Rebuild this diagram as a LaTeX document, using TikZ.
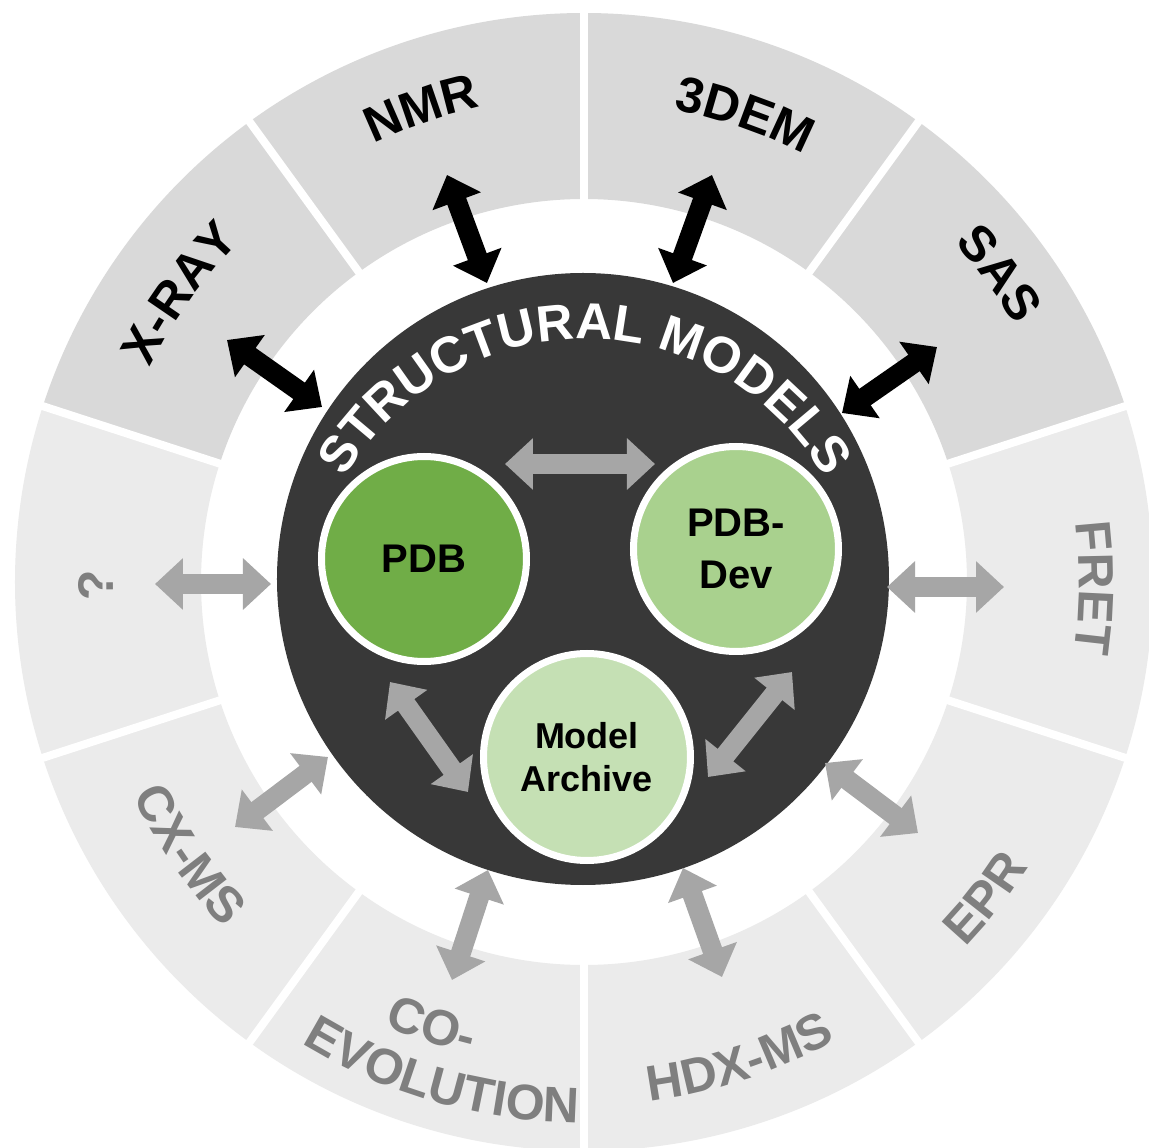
\documentclass[tikz,border=0pt]{standalone}
\usepackage{fontspec}
\setmainfont{Liberation Sans}
\usetikzlibrary{arrows.meta,decorations.text}
\definecolor{ringdark}{HTML}{D9D9D9}
\definecolor{ringlight}{HTML}{EBEBEB}
\definecolor{corecol}{HTML}{383838}
\definecolor{txtgray}{HTML}{7F7F7F}
\definecolor{arrgray}{HTML}{A6A6A6}
\definecolor{pdbgreen}{HTML}{70AD47}
\definecolor{devgreen}{HTML}{A9D18E}
\definecolor{archgreen}{HTML}{C5E0B4}
\newcommand\lblfont{\fontsize{50}{58}\selectfont\bfseries}
\newcommand\smfont{\fontsize{51}{60}\selectfont\bfseries}
\begin{document}
\begin{tikzpicture}[x=1pt,y=1pt,
  blockarrow/.style={line width=20pt,{Triangle[length=28pt,width=50pt]}-{Triangle[length=28pt,width=50pt]}},
  blackarrow/.style={blockarrow,draw=black},
  grayarrow/.style={blockarrow,draw=arrgray},
  db/.style={circle,draw=white,line width=7pt,inner sep=0pt,minimum size=205pt,text=black,align=center},
  arclabel/.style n args={2}{decorate,decoration={text along path,text align=center,text color=#2,text={|\lblfont|#1}}},
  separator/.style={draw=white,line width=8pt}
]
\useasboundingbox (-584,-566) rectangle (565,582);
\fill[white] (-584,-566) rectangle (565,582);
% ring sectors
\foreach \a in {18,54,90,126}{
  \fill[ringdark] (\a:383) arc[start angle=\a,end angle=\a+36,radius=383] -- ({\a+36}:569) arc[start angle=\a+36,end angle=\a,radius=569] -- cycle;
}
\foreach \a in {162,198,234,270,306,342}{
  \fill[ringlight] (\a:383) arc[start angle=\a,end angle=\a+36,radius=383] -- ({\a+36}:569) arc[start angle=\a+36,end angle=\a,radius=569] -- cycle;
}
\foreach \a in {18,54,...,342}{
  \draw[separator] (\a:380) -- (\a:575);
}
% ring labels (outer, tops outward)
\path[arclabel={X-RAY}{black}] (179.5:484) arc[start angle=179.5,end angle=109.5,radius=484];
\path[arclabel={NMR}{black}] (144:486) arc[start angle=144,end angle=74,radius=486];
\path[arclabel={3DEM}{black}] (106:481) arc[start angle=106,end angle=36,radius=481];
\path[arclabel={SAS}{black}] (71.6:502) arc[start angle=71.6,end angle=1.6,radius=502];
\path[arclabel={FRET}{txtgray}] (34.3:495) arc[start angle=34.3,end angle=-35.7,radius=495];
\path[arclabel={?}{txtgray}] (215.4:471) arc[start angle=215.4,end angle=145.4,radius=471];
% ring labels (bottom, tops inward)
\path[arclabel={EPR}{txtgray}] (-73.2:528) arc[start angle=-73.2,end angle=-3.2,radius=528];
\path[arclabel={HDX-MS}{txtgray}] (-107:523) arc[start angle=-107,end angle=-37,radius=523];
\path[arclabel={EVOLUTION}{txtgray}] (-141:541) arc[start angle=-141,end angle=-71,radius=541];
\path[arclabel={CO-}{txtgray}] (-143.9:486) arc[start angle=-143.9,end angle=-73.9,radius=486];
\path[arclabel={CX-MS}{txtgray}] (-180.4:499) arc[start angle=-180.4,end angle=-110.4,radius=499];
% core
\node[circle,fill=corecol,inner sep=0pt,minimum size=612pt] (core) at (-1,3) {};
\path[decorate,decoration={text along path,text align=center,text color=white,text={|\smfont|STRUCTURAL MODELS}}]
  ([shift={(1,-33)}]170:276) arc[start angle=170,end angle=10,radius=276];
% databases
\node[db,fill=pdbgreen,font=\fontsize{40}{52}\selectfont\bfseries] (pdb) at (-160,23) {PDB};
\node[db,fill=devgreen,font=\fontsize{40}{52}\selectfont\bfseries] (pdbdev) at (152,33) {PDB-\\Dev};
\node[db,fill=archgreen,minimum size=207pt,font=\fontsize{36}{43}\selectfont\bfseries] (archive) at (3,-175) {Model\\Archive};
% arrow end points
\coordinate (xrayO) at (-357,242); \coordinate (xrayI) at (-262,175);
\coordinate (nmrO) at (-137,407);  \coordinate (nmrI) at (-97,299);
\coordinate (emO) at (128,407);    \coordinate (emI) at (89,299);
\coordinate (sasO) at (353,235);   \coordinate (sasI) at (258,169);
\coordinate (pdbR) at (-79,118);   \coordinate (devL) at (71,118);
\coordinate (qO) at (-429,-2);     \coordinate (qI) at (-313,-2);
\coordinate (fretI) at (303,-5);   \coordinate (fretO) at (420,-5);
\coordinate (pdbB) at (-194,-100); \coordinate (archL) at (-116,-210);
\coordinate (cxO) at (-349,-245);  \coordinate (cxI) at (-256,-175);
\coordinate (coI) at (-96,-288);   \coordinate (coO) at (-132,-398);
\coordinate (hdxI) at (99,-286);   \coordinate (hdxO) at (138,-395);
\coordinate (archR) at (124,-195); \coordinate (devB) at (208,-90);
\coordinate (eprI) at (241,-181);  \coordinate (eprO) at (334,-251);
% arrows
\draw[blackarrow] (xrayO) -- (xrayI);
\draw[blackarrow] (nmrO) -- (nmrI);
\draw[blackarrow] (emO) -- (emI);
\draw[blackarrow] (sasO) -- (sasI);
\draw[grayarrow] (pdbR) -- (devL);
\draw[grayarrow] (qO) -- (qI);
\draw[grayarrow] (fretI) -- (fretO);
\draw[grayarrow] (pdbB) -- (archL);
\draw[grayarrow] (cxO) -- (cxI);
\draw[grayarrow] (coI) -- (coO);
\draw[grayarrow] (hdxI) -- (hdxO);
\draw[grayarrow] (archR) -- (devB);
\draw[grayarrow] (eprI) -- (eprO);
\end{tikzpicture}
\end{document}
